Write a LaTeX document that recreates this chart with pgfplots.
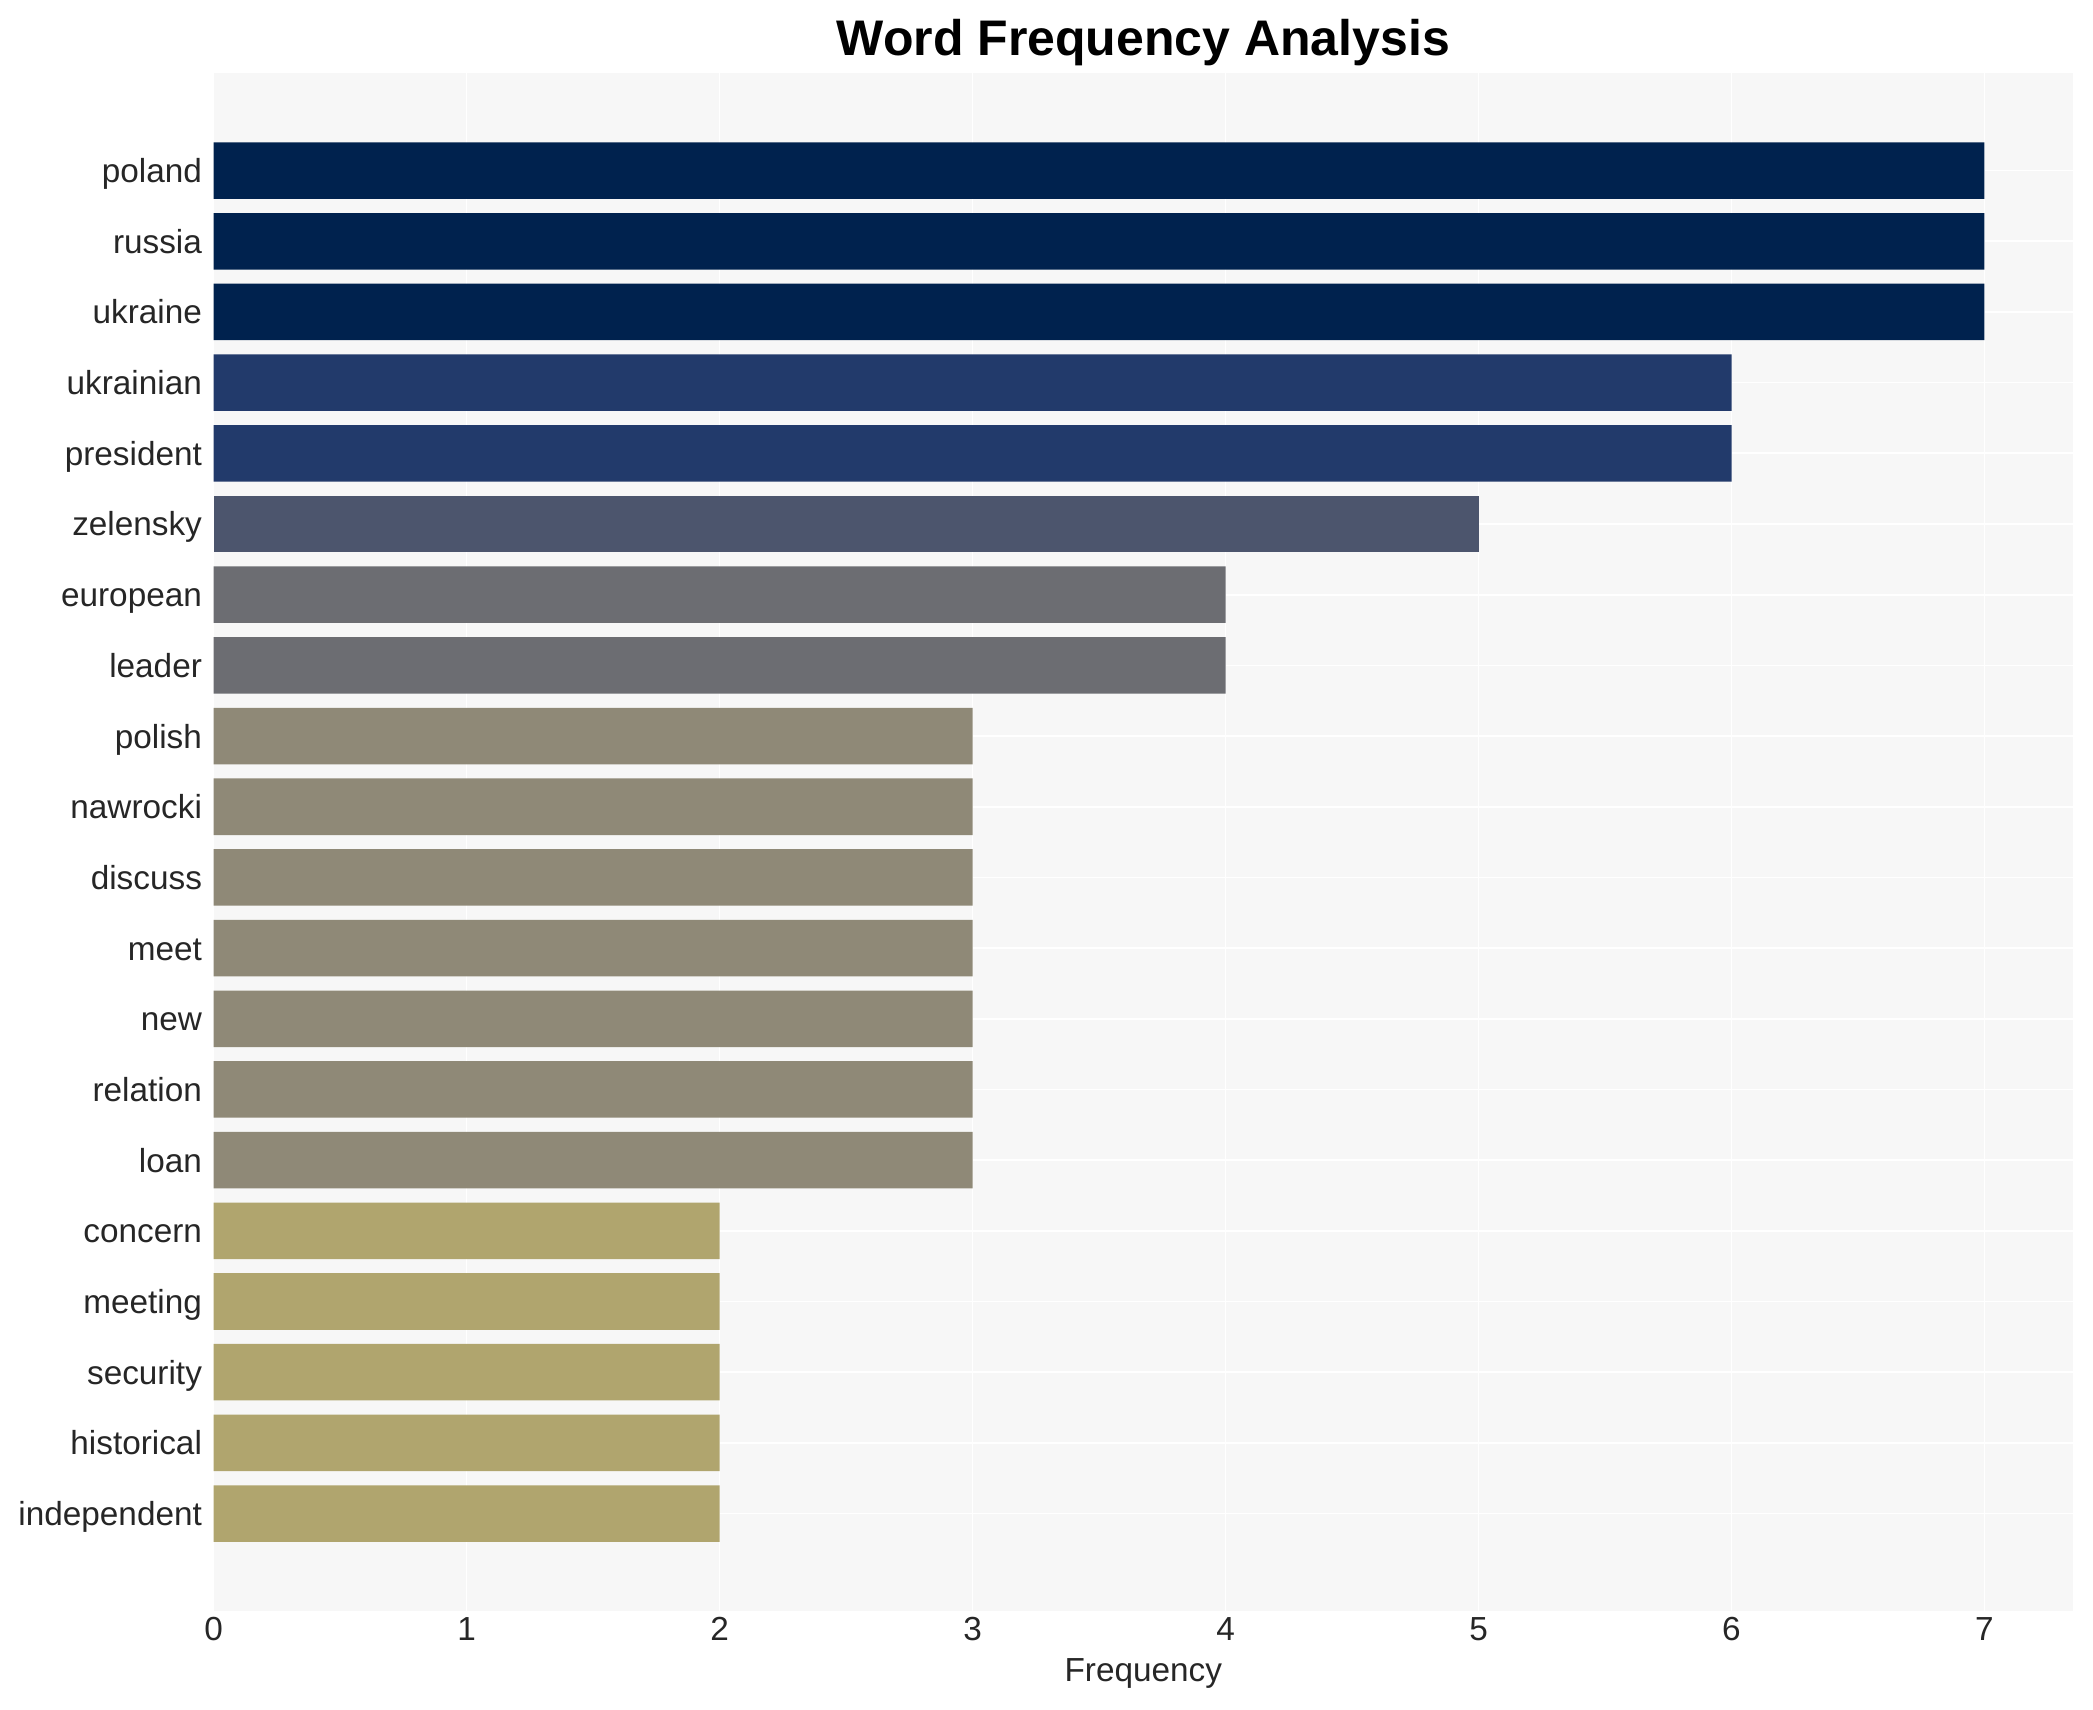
\documentclass[border=0pt]{standalone}
\usepackage{pgfplots}
\pgfplotsset{compat=1.18}
\usepackage{fontspec}
\setmainfont{Liberation Sans}
\definecolor{c7}{HTML}{00224E}
\definecolor{c6}{HTML}{223A6B}
\definecolor{c5}{HTML}{4C556D}
\definecolor{c4}{HTML}{6C6D72}
\definecolor{c3}{HTML}{8F8977}
\definecolor{c2}{HTML}{B0A56E}
\definecolor{bgcol}{HTML}{F7F7F7}
\definecolor{txt}{HTML}{262626}
\begin{document}
\begin{tikzpicture}
\begin{axis}[
  scale only axis,
  width=669.4pt, height=553.7pt,
  at={(0pt,0pt)}, anchor=south west,
  xbar, bar width=0.8, bar shift=0pt,
  y dir=reverse,
  xmin=0, xmax=7.35,
  ymin=-1.38, ymax=20.38,
  xtick={0,1,2,3,4,5,6,7},
  ytick={0,...,19},
  yticklabels={poland,russia,ukraine,ukrainian,president,zelensky,european,leader,polish,nawrocki,discuss,meet,new,relation,loan,concern,meeting,security,historical,independent},
  axis background/.style={fill=bgcol},
  axis line style={draw=none},
  major tick style={draw=none},
  grid=major,
  major grid style={white, line width=0.6pt},
  /pgf/number format/assume math mode=true,
  tick label style={font=\fontsize{12}{14.4}\selectfont, text=txt},
  xticklabel style={anchor=base, yshift=-10.5pt},
  yticklabel style={anchor=base east, xshift=3.6pt, yshift=-4.3pt},
  xlabel={Frequency},
  xlabel style={font=\fontsize{12}{14.4}\selectfont, text=txt, at={(axis description cs:0.5,0)}, anchor=base, yshift=-25.2pt},
  title={Word Frequency Analysis},
  title style={font=\fontsize{18}{21.6}\selectfont\bfseries, text=black, at={(axis description cs:0.5,1)}, anchor=base, yshift=0.3pt},
]
\addplot[fill=c7, draw=none] coordinates {(7,0) (7,1) (7,2)};
\addplot[fill=c6, draw=none] coordinates {(6,3) (6,4)};
\addplot[fill=c5, draw=none] coordinates {(5,5)};
\addplot[fill=c4, draw=none] coordinates {(4,6) (4,7)};
\addplot[fill=c3, draw=none] coordinates {(3,8) (3,9) (3,10) (3,11) (3,12) (3,13) (3,14)};
\addplot[fill=c2, draw=none] coordinates {(2,15) (2,16) (2,17) (2,18) (2,19)};
\end{axis}
\path (-76.9pt,-35.6pt) rectangle (676.6pt,580pt);
\end{tikzpicture}
\end{document}
